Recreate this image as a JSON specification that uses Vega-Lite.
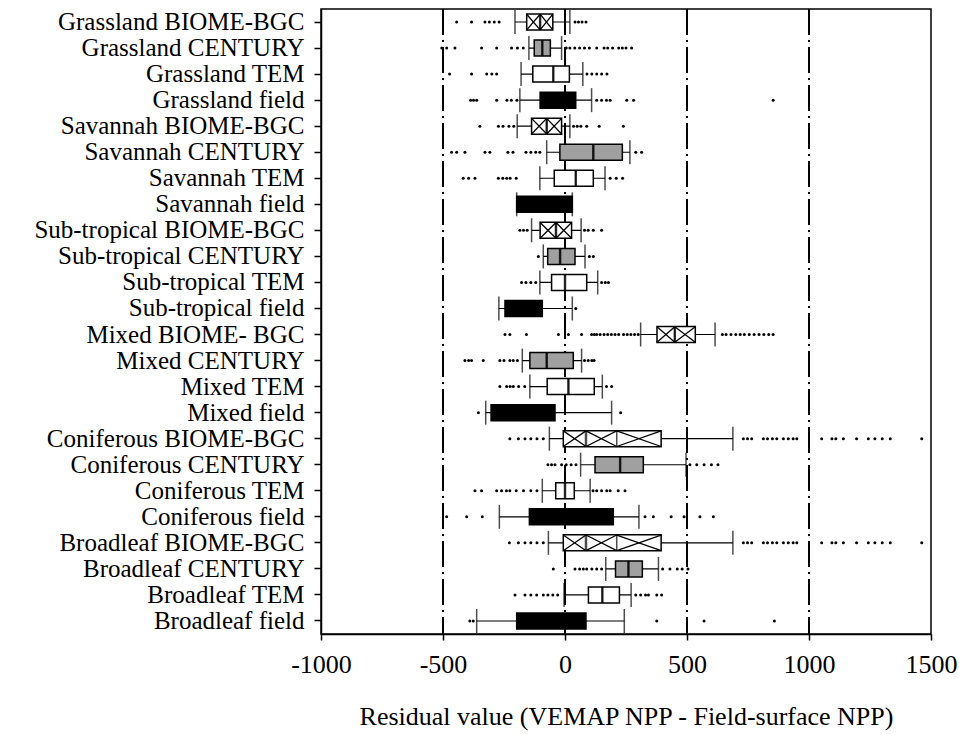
{
  "$schema": "https://vega.github.io/schema/vega-lite/v6.json",
  "width": 610,
  "height": 625,
  "autosize": {"type": "none"},
  "padding": {"left": 321, "top": 9, "right": 28, "bottom": 100},
  "background": "white",
  "config": {
    "view": {"stroke": "black", "strokeWidth": 1.5},
    "font": "Liberation Serif",
    "axis": {"domainColor": "black", "tickColor": "black", "labelColor": "black", "titleColor": "black", "labelFont": "Liberation Serif", "titleFont": "Liberation Serif", "grid": false},
    "axisX": {"tickCount": 5, "labelExpr": "datum.value + ''", "labelFontSize": 26, "titleFontSize": 26, "titleFontWeight": "normal", "tickSize": 6, "tickWidth": 1.5, "domainWidth": 1.5, "labelPadding": 11, "titlePadding": 26, "labelFlush": false},
    "axisY": {"labelFontSize": 25, "labelLimit": 0, "tickSize": 7, "tickWidth": 1.5, "domainWidth": 1.5, "labelPadding": 10}
  },
  "datasets": {
    "boxes": [
      {"label": "Grassland BIOME-BGC", "model": "BIOME-BGC", "lo": -205, "q1": -157, "med": -102, "mean": -102, "q3": -50, "hi": 20},
      {"label": "Grassland CENTURY", "model": "CENTURY", "lo": -148, "q1": -126, "med": -93, "mean": -93, "q3": -60, "hi": -14},
      {"label": "Grassland TEM", "model": "TEM", "lo": -180, "q1": -132, "med": -48, "mean": -48, "q3": 18, "hi": 73},
      {"label": "Grassland field", "model": "field", "lo": -185, "q1": -102, "med": -30, "mean": -30, "q3": 44, "hi": 109},
      {"label": "Savannah BIOME-BGC", "model": "BIOME-BGC", "lo": -196, "q1": -137, "med": -75, "mean": -75, "q3": -14, "hi": 20},
      {"label": "Savannah CENTURY", "model": "CENTURY", "lo": -75, "q1": -21, "med": 116, "mean": 116, "q3": 235, "hi": 266},
      {"label": "Savannah TEM", "model": "TEM", "lo": -103, "q1": -44, "med": 44, "mean": 44, "q3": 116, "hi": 164},
      {"label": "Savannah field", "model": "field", "lo": -198, "q1": -198, "med": -80, "mean": -80, "q3": 30, "hi": 30},
      {"label": "Sub-tropical BIOME-BGC", "model": "BIOME-BGC", "lo": -137, "q1": -102, "med": -37, "mean": -37, "q3": 27, "hi": 66},
      {"label": "Sub-tropical CENTURY", "model": "CENTURY", "lo": -89, "q1": -71, "med": -20, "mean": -20, "q3": 41, "hi": 82},
      {"label": "Sub-tropical TEM", "model": "TEM", "lo": -103, "q1": -55, "med": 0, "mean": 0, "q3": 89, "hi": 134},
      {"label": "Sub-tropical field", "model": "field", "lo": -271, "q1": -246, "med": -170, "mean": -170, "q3": -93, "hi": 30},
      {"label": "Mixed BIOME- BGC", "model": "BIOME-BGC", "lo": 310, "q1": 377, "med": 450, "mean": 450, "q3": 534, "hi": 615},
      {"label": "Mixed CENTURY", "model": "CENTURY", "lo": -175, "q1": -144, "med": -75, "mean": -75, "q3": 34, "hi": 68},
      {"label": "Mixed TEM", "model": "TEM", "lo": -144, "q1": -73, "med": 14, "mean": 14, "q3": 120, "hi": 153},
      {"label": "Mixed field", "model": "field", "lo": -325, "q1": -303, "med": -200, "mean": -200, "q3": -41, "hi": 191},
      {"label": "Coniferous BIOME-BGC", "model": "BIOME-BGC", "lo": -64, "q1": -7, "med": 86, "mean": 212, "q3": 394, "hi": 688},
      {"label": "Coniferous CENTURY", "model": "CENTURY", "lo": 64, "q1": 123, "med": 226, "mean": 226, "q3": 321, "hi": 496},
      {"label": "Coniferous TEM", "model": "TEM", "lo": -93, "q1": -38, "med": 0, "mean": 0, "q3": 38, "hi": 103},
      {"label": "Coniferous field", "model": "field", "lo": -269, "q1": -146, "med": 50, "mean": 50, "q3": 198, "hi": 303},
      {"label": "Broadleaf BIOME-BGC", "model": "BIOME-BGC", "lo": -68, "q1": -7, "med": 86, "mean": 212, "q3": 394, "hi": 688},
      {"label": "Broadleaf CENTURY", "model": "CENTURY", "lo": 167, "q1": 207, "med": 260, "mean": 260, "q3": 317, "hi": 383},
      {"label": "Broadleaf TEM", "model": "TEM", "lo": -4, "q1": 96, "med": 153, "mean": 153, "q3": 223, "hi": 271},
      {"label": "Broadleaf field", "model": "field", "lo": -362, "q1": -198, "med": -60, "mean": -60, "q3": 86, "hi": 243}
    ],
    "outl": [
      {"label": "Grassland BIOME-BGC", "v": -444}, {"label": "Grassland BIOME-BGC", "v": -383}, {"label": "Grassland BIOME-BGC", "v": -328}, {"label": "Grassland BIOME-BGC", "v": -310}, {"label": "Grassland BIOME-BGC", "v": -290}, {"label": "Grassland BIOME-BGC", "v": -270}, {"label": "Grassland BIOME-BGC", "v": 41}, {"label": "Grassland BIOME-BGC", "v": 55}, {"label": "Grassland BIOME-BGC", "v": 70}, {"label": "Grassland BIOME-BGC", "v": 86},
      {"label": "Grassland CENTURY", "v": -505}, {"label": "Grassland CENTURY", "v": -485}, {"label": "Grassland CENTURY", "v": -451}, {"label": "Grassland CENTURY", "v": -342}, {"label": "Grassland CENTURY", "v": -280}, {"label": "Grassland CENTURY", "v": -219}, {"label": "Grassland CENTURY", "v": -195}, {"label": "Grassland CENTURY", "v": -171}, {"label": "Grassland CENTURY", "v": 5}, {"label": "Grassland CENTURY", "v": 20}, {"label": "Grassland CENTURY", "v": 40}, {"label": "Grassland CENTURY", "v": 60}, {"label": "Grassland CENTURY", "v": 80}, {"label": "Grassland CENTURY", "v": 100}, {"label": "Grassland CENTURY", "v": 130}, {"label": "Grassland CENTURY", "v": 160}, {"label": "Grassland CENTURY", "v": 175}, {"label": "Grassland CENTURY", "v": 195}, {"label": "Grassland CENTURY", "v": 220}, {"label": "Grassland CENTURY", "v": 235}, {"label": "Grassland CENTURY", "v": 250}, {"label": "Grassland CENTURY", "v": 273},
      {"label": "Grassland TEM", "v": -473}, {"label": "Grassland TEM", "v": -383}, {"label": "Grassland TEM", "v": -321}, {"label": "Grassland TEM", "v": -300}, {"label": "Grassland TEM", "v": -280}, {"label": "Grassland TEM", "v": 90}, {"label": "Grassland TEM", "v": 110}, {"label": "Grassland TEM", "v": 130}, {"label": "Grassland TEM", "v": 150}, {"label": "Grassland TEM", "v": 172},
      {"label": "Grassland field", "v": -387}, {"label": "Grassland field", "v": -375}, {"label": "Grassland field", "v": -362}, {"label": "Grassland field", "v": -280}, {"label": "Grassland field", "v": -238}, {"label": "Grassland field", "v": -220}, {"label": "Grassland field", "v": -197}, {"label": "Grassland field", "v": 130}, {"label": "Grassland field", "v": 150}, {"label": "Grassland field", "v": 170}, {"label": "Grassland field", "v": 185}, {"label": "Grassland field", "v": 253}, {"label": "Grassland field", "v": 281}, {"label": "Grassland field", "v": 853},
      {"label": "Savannah BIOME-BGC", "v": -349}, {"label": "Savannah BIOME-BGC", "v": -273}, {"label": "Savannah BIOME-BGC", "v": -254}, {"label": "Savannah BIOME-BGC", "v": -230}, {"label": "Savannah BIOME-BGC", "v": -210}, {"label": "Savannah BIOME-BGC", "v": 35}, {"label": "Savannah BIOME-BGC", "v": 50}, {"label": "Savannah BIOME-BGC", "v": 65}, {"label": "Savannah BIOME-BGC", "v": 89}, {"label": "Savannah BIOME-BGC", "v": 140}, {"label": "Savannah BIOME-BGC", "v": 239},
      {"label": "Savannah CENTURY", "v": -465}, {"label": "Savannah CENTURY", "v": -444}, {"label": "Savannah CENTURY", "v": -410}, {"label": "Savannah CENTURY", "v": -328}, {"label": "Savannah CENTURY", "v": -308}, {"label": "Savannah CENTURY", "v": -234}, {"label": "Savannah CENTURY", "v": -213}, {"label": "Savannah CENTURY", "v": -160}, {"label": "Savannah CENTURY", "v": -140}, {"label": "Savannah CENTURY", "v": -120}, {"label": "Savannah CENTURY", "v": -103}, {"label": "Savannah CENTURY", "v": 290}, {"label": "Savannah CENTURY", "v": 314},
      {"label": "Savannah TEM", "v": -417}, {"label": "Savannah TEM", "v": -395}, {"label": "Savannah TEM", "v": -369}, {"label": "Savannah TEM", "v": -273}, {"label": "Savannah TEM", "v": -255}, {"label": "Savannah TEM", "v": -239}, {"label": "Savannah TEM", "v": -225}, {"label": "Savannah TEM", "v": -200}, {"label": "Savannah TEM", "v": 185}, {"label": "Savannah TEM", "v": 210}, {"label": "Savannah TEM", "v": 236},
      {"label": "Sub-tropical BIOME-BGC", "v": -185}, {"label": "Sub-tropical BIOME-BGC", "v": -170}, {"label": "Sub-tropical BIOME-BGC", "v": -155}, {"label": "Sub-tropical BIOME-BGC", "v": 80}, {"label": "Sub-tropical BIOME-BGC", "v": 95}, {"label": "Sub-tropical BIOME-BGC", "v": 116}, {"label": "Sub-tropical BIOME-BGC", "v": 150},
      {"label": "Sub-tropical CENTURY", "v": -109}, {"label": "Sub-tropical CENTURY", "v": 100}, {"label": "Sub-tropical CENTURY", "v": 116},
      {"label": "Sub-tropical TEM", "v": -178}, {"label": "Sub-tropical TEM", "v": -160}, {"label": "Sub-tropical TEM", "v": -140}, {"label": "Sub-tropical TEM", "v": -120}, {"label": "Sub-tropical TEM", "v": 150}, {"label": "Sub-tropical TEM", "v": 165}, {"label": "Sub-tropical TEM", "v": 178},
      {"label": "Sub-tropical field", "v": 44},
      {"label": "Mixed BIOME- BGC", "v": -246}, {"label": "Mixed BIOME- BGC", "v": -226}, {"label": "Mixed BIOME- BGC", "v": -158}, {"label": "Mixed BIOME- BGC", "v": -27}, {"label": "Mixed BIOME- BGC", "v": 14}, {"label": "Mixed BIOME- BGC", "v": 68}, {"label": "Mixed BIOME- BGC", "v": 109}, {"label": "Mixed BIOME- BGC", "v": 120}, {"label": "Mixed BIOME- BGC", "v": 130}, {"label": "Mixed BIOME- BGC", "v": 144}, {"label": "Mixed BIOME- BGC", "v": 160}, {"label": "Mixed BIOME- BGC", "v": 175}, {"label": "Mixed BIOME- BGC", "v": 190}, {"label": "Mixed BIOME- BGC", "v": 205}, {"label": "Mixed BIOME- BGC", "v": 220}, {"label": "Mixed BIOME- BGC", "v": 240}, {"label": "Mixed BIOME- BGC", "v": 255}, {"label": "Mixed BIOME- BGC", "v": 270}, {"label": "Mixed BIOME- BGC", "v": 285}, {"label": "Mixed BIOME- BGC", "v": 300}, {"label": "Mixed BIOME- BGC", "v": 645}, {"label": "Mixed BIOME- BGC", "v": 660}, {"label": "Mixed BIOME- BGC", "v": 680}, {"label": "Mixed BIOME- BGC", "v": 700}, {"label": "Mixed BIOME- BGC", "v": 718}, {"label": "Mixed BIOME- BGC", "v": 735}, {"label": "Mixed BIOME- BGC", "v": 755}, {"label": "Mixed BIOME- BGC", "v": 775}, {"label": "Mixed BIOME- BGC", "v": 795}, {"label": "Mixed BIOME- BGC", "v": 815}, {"label": "Mixed BIOME- BGC", "v": 835}, {"label": "Mixed BIOME- BGC", "v": 853},
      {"label": "Mixed CENTURY", "v": -410}, {"label": "Mixed CENTURY", "v": -395}, {"label": "Mixed CENTURY", "v": -383}, {"label": "Mixed CENTURY", "v": -335}, {"label": "Mixed CENTURY", "v": -267}, {"label": "Mixed CENTURY", "v": -250}, {"label": "Mixed CENTURY", "v": -226}, {"label": "Mixed CENTURY", "v": -212}, {"label": "Mixed CENTURY", "v": -195}, {"label": "Mixed CENTURY", "v": 80}, {"label": "Mixed CENTURY", "v": 95}, {"label": "Mixed CENTURY", "v": 110}, {"label": "Mixed CENTURY", "v": 119},
      {"label": "Mixed TEM", "v": -267}, {"label": "Mixed TEM", "v": -239}, {"label": "Mixed TEM", "v": -225}, {"label": "Mixed TEM", "v": -212}, {"label": "Mixed TEM", "v": -190}, {"label": "Mixed TEM", "v": -165}, {"label": "Mixed TEM", "v": 170}, {"label": "Mixed TEM", "v": 191},
      {"label": "Mixed field", "v": -355}, {"label": "Mixed field", "v": 228},
      {"label": "Coniferous BIOME-BGC", "v": -226}, {"label": "Coniferous BIOME-BGC", "v": -191}, {"label": "Coniferous BIOME-BGC", "v": -164}, {"label": "Coniferous BIOME-BGC", "v": -140}, {"label": "Coniferous BIOME-BGC", "v": -115}, {"label": "Coniferous BIOME-BGC", "v": -89}, {"label": "Coniferous BIOME-BGC", "v": 731}, {"label": "Coniferous BIOME-BGC", "v": 748}, {"label": "Coniferous BIOME-BGC", "v": 765}, {"label": "Coniferous BIOME-BGC", "v": 813}, {"label": "Coniferous BIOME-BGC", "v": 830}, {"label": "Coniferous BIOME-BGC", "v": 850}, {"label": "Coniferous BIOME-BGC", "v": 868}, {"label": "Coniferous BIOME-BGC", "v": 895}, {"label": "Coniferous BIOME-BGC", "v": 915}, {"label": "Coniferous BIOME-BGC", "v": 935}, {"label": "Coniferous BIOME-BGC", "v": 950}, {"label": "Coniferous BIOME-BGC", "v": 1052}, {"label": "Coniferous BIOME-BGC", "v": 1094}, {"label": "Coniferous BIOME-BGC", "v": 1110}, {"label": "Coniferous BIOME-BGC", "v": 1141}, {"label": "Coniferous BIOME-BGC", "v": 1195}, {"label": "Coniferous BIOME-BGC", "v": 1243}, {"label": "Coniferous BIOME-BGC", "v": 1270}, {"label": "Coniferous BIOME-BGC", "v": 1300}, {"label": "Coniferous BIOME-BGC", "v": 1333}, {"label": "Coniferous BIOME-BGC", "v": 1462},
      {"label": "Coniferous CENTURY", "v": -70}, {"label": "Coniferous CENTURY", "v": -55}, {"label": "Coniferous CENTURY", "v": -41}, {"label": "Coniferous CENTURY", "v": -14}, {"label": "Coniferous CENTURY", "v": 5}, {"label": "Coniferous CENTURY", "v": 25}, {"label": "Coniferous CENTURY", "v": 45}, {"label": "Coniferous CENTURY", "v": 512}, {"label": "Coniferous CENTURY", "v": 540}, {"label": "Coniferous CENTURY", "v": 570}, {"label": "Coniferous CENTURY", "v": 600}, {"label": "Coniferous CENTURY", "v": 627},
      {"label": "Coniferous TEM", "v": -369}, {"label": "Coniferous TEM", "v": -342}, {"label": "Coniferous TEM", "v": -280}, {"label": "Coniferous TEM", "v": -260}, {"label": "Coniferous TEM", "v": -240}, {"label": "Coniferous TEM", "v": -226}, {"label": "Coniferous TEM", "v": -200}, {"label": "Coniferous TEM", "v": -170}, {"label": "Coniferous TEM", "v": -140}, {"label": "Coniferous TEM", "v": -115}, {"label": "Coniferous TEM", "v": 115}, {"label": "Coniferous TEM", "v": 130}, {"label": "Coniferous TEM", "v": 150}, {"label": "Coniferous TEM", "v": 171}, {"label": "Coniferous TEM", "v": 185}, {"label": "Coniferous TEM", "v": 218}, {"label": "Coniferous TEM", "v": 246},
      {"label": "Coniferous field", "v": -485}, {"label": "Coniferous field", "v": -403}, {"label": "Coniferous field", "v": -339}, {"label": "Coniferous field", "v": 328}, {"label": "Coniferous field", "v": 362}, {"label": "Coniferous field", "v": 435}, {"label": "Coniferous field", "v": 488}, {"label": "Coniferous field", "v": 553}, {"label": "Coniferous field", "v": 608},
      {"label": "Broadleaf BIOME-BGC", "v": -228}, {"label": "Broadleaf BIOME-BGC", "v": -191}, {"label": "Broadleaf BIOME-BGC", "v": -164}, {"label": "Broadleaf BIOME-BGC", "v": -140}, {"label": "Broadleaf BIOME-BGC", "v": -115}, {"label": "Broadleaf BIOME-BGC", "v": -89}, {"label": "Broadleaf BIOME-BGC", "v": 731}, {"label": "Broadleaf BIOME-BGC", "v": 748}, {"label": "Broadleaf BIOME-BGC", "v": 765}, {"label": "Broadleaf BIOME-BGC", "v": 813}, {"label": "Broadleaf BIOME-BGC", "v": 830}, {"label": "Broadleaf BIOME-BGC", "v": 850}, {"label": "Broadleaf BIOME-BGC", "v": 868}, {"label": "Broadleaf BIOME-BGC", "v": 895}, {"label": "Broadleaf BIOME-BGC", "v": 915}, {"label": "Broadleaf BIOME-BGC", "v": 935}, {"label": "Broadleaf BIOME-BGC", "v": 950}, {"label": "Broadleaf BIOME-BGC", "v": 1052}, {"label": "Broadleaf BIOME-BGC", "v": 1094}, {"label": "Broadleaf BIOME-BGC", "v": 1110}, {"label": "Broadleaf BIOME-BGC", "v": 1141}, {"label": "Broadleaf BIOME-BGC", "v": 1195}, {"label": "Broadleaf BIOME-BGC", "v": 1243}, {"label": "Broadleaf BIOME-BGC", "v": 1270}, {"label": "Broadleaf BIOME-BGC", "v": 1300}, {"label": "Broadleaf BIOME-BGC", "v": 1333}, {"label": "Broadleaf BIOME-BGC", "v": 1462},
      {"label": "Broadleaf CENTURY", "v": -48}, {"label": "Broadleaf CENTURY", "v": 41}, {"label": "Broadleaf CENTURY", "v": 60}, {"label": "Broadleaf CENTURY", "v": 75}, {"label": "Broadleaf CENTURY", "v": 89}, {"label": "Broadleaf CENTURY", "v": 110}, {"label": "Broadleaf CENTURY", "v": 130}, {"label": "Broadleaf CENTURY", "v": 150}, {"label": "Broadleaf CENTURY", "v": 400}, {"label": "Broadleaf CENTURY", "v": 430}, {"label": "Broadleaf CENTURY", "v": 460}, {"label": "Broadleaf CENTURY", "v": 480}, {"label": "Broadleaf CENTURY", "v": 504},
      {"label": "Broadleaf TEM", "v": -205}, {"label": "Broadleaf TEM", "v": -164}, {"label": "Broadleaf TEM", "v": -140}, {"label": "Broadleaf TEM", "v": -116}, {"label": "Broadleaf TEM", "v": -89}, {"label": "Broadleaf TEM", "v": -70}, {"label": "Broadleaf TEM", "v": -50}, {"label": "Broadleaf TEM", "v": -30}, {"label": "Broadleaf TEM", "v": 290}, {"label": "Broadleaf TEM", "v": 310}, {"label": "Broadleaf TEM", "v": 330}, {"label": "Broadleaf TEM", "v": 342}, {"label": "Broadleaf TEM", "v": 376}, {"label": "Broadleaf TEM", "v": 396},
      {"label": "Broadleaf field", "v": -390}, {"label": "Broadleaf field", "v": -376}, {"label": "Broadleaf field", "v": 376}, {"label": "Broadleaf field", "v": 570}, {"label": "Broadleaf field", "v": 858}
    ]
  },
  "layer": [
    {
      "data": {"values": [{"r": -500}, {"r": 0}, {"r": 500}, {"r": 1000}]},
      "mark": {"type": "rule", "color": "black", "strokeWidth": 2, "strokeDash": [26, 5, 2, 5]},
      "encoding": {
        "x": {"field": "r", "type": "quantitative", "title": "Residual value (VEMAP NPP - Field-surface NPP)", "scale": {"domain": [-1000, 1500], "nice": false, "zero": false}}
      }
    },
    {
      "data": {"name": "boxes"},
      "mark": {"type": "rule", "color": "black", "strokeWidth": 1.2},
      "encoding": {
        "x": {"field": "lo", "type": "quantitative", "title": "Residual value (VEMAP NPP - Field-surface NPP)", "scale": {"domain": [-1000, 1500], "nice": false, "zero": false}},
        "x2": {"field": "hi", "title": "Residual value (VEMAP NPP - Field-surface NPP)"},
        "y": {"field": "label", "type": "nominal", "sort": null, "title": null, "scale": {"domain": ["Grassland BIOME-BGC","Grassland CENTURY","Grassland TEM","Grassland field","Savannah BIOME-BGC","Savannah CENTURY","Savannah TEM","Savannah field","Sub-tropical BIOME-BGC","Sub-tropical CENTURY","Sub-tropical TEM","Sub-tropical field","Mixed BIOME- BGC","Mixed CENTURY","Mixed TEM","Mixed field","Coniferous BIOME-BGC","Coniferous CENTURY","Coniferous TEM","Coniferous field","Broadleaf BIOME-BGC","Broadleaf CENTURY","Broadleaf TEM","Broadleaf field"], "paddingInner": 0, "paddingOuter": 0}}
      }
    },
    {
      "data": {"name": "boxes"},
      "mark": {"type": "tick", "color": "black", "size": 24, "thickness": 1.5},
      "encoding": {
        "x": {"field": "lo", "type": "quantitative", "title": "Residual value (VEMAP NPP - Field-surface NPP)", "scale": {"domain": [-1000, 1500], "nice": false, "zero": false}},
        "y": {"field": "label", "type": "nominal", "sort": null, "title": null, "scale": {"domain": ["Grassland BIOME-BGC","Grassland CENTURY","Grassland TEM","Grassland field","Savannah BIOME-BGC","Savannah CENTURY","Savannah TEM","Savannah field","Sub-tropical BIOME-BGC","Sub-tropical CENTURY","Sub-tropical TEM","Sub-tropical field","Mixed BIOME- BGC","Mixed CENTURY","Mixed TEM","Mixed field","Coniferous BIOME-BGC","Coniferous CENTURY","Coniferous TEM","Coniferous field","Broadleaf BIOME-BGC","Broadleaf CENTURY","Broadleaf TEM","Broadleaf field"], "paddingInner": 0, "paddingOuter": 0}}
      }
    },
    {
      "data": {"name": "boxes"},
      "mark": {"type": "tick", "color": "black", "size": 24, "thickness": 1.5},
      "encoding": {
        "x": {"field": "hi", "type": "quantitative", "title": "Residual value (VEMAP NPP - Field-surface NPP)", "scale": {"domain": [-1000, 1500], "nice": false, "zero": false}},
        "y": {"field": "label", "type": "nominal", "sort": null, "title": null, "scale": {"domain": ["Grassland BIOME-BGC","Grassland CENTURY","Grassland TEM","Grassland field","Savannah BIOME-BGC","Savannah CENTURY","Savannah TEM","Savannah field","Sub-tropical BIOME-BGC","Sub-tropical CENTURY","Sub-tropical TEM","Sub-tropical field","Mixed BIOME- BGC","Mixed CENTURY","Mixed TEM","Mixed field","Coniferous BIOME-BGC","Coniferous CENTURY","Coniferous TEM","Coniferous field","Broadleaf BIOME-BGC","Broadleaf CENTURY","Broadleaf TEM","Broadleaf field"], "paddingInner": 0, "paddingOuter": 0}}
      }
    },
    {
      "data": {"name": "boxes"},
      "mark": {"type": "bar", "size": 16, "stroke": "black", "strokeWidth": 1.5},
      "encoding": {
        "x": {"field": "q1", "type": "quantitative", "title": "Residual value (VEMAP NPP - Field-surface NPP)", "scale": {"domain": [-1000, 1500], "nice": false, "zero": false}},
        "x2": {"field": "q3", "title": "Residual value (VEMAP NPP - Field-surface NPP)"},
        "y": {"field": "label", "type": "nominal", "sort": null, "title": null, "scale": {"domain": ["Grassland BIOME-BGC","Grassland CENTURY","Grassland TEM","Grassland field","Savannah BIOME-BGC","Savannah CENTURY","Savannah TEM","Savannah field","Sub-tropical BIOME-BGC","Sub-tropical CENTURY","Sub-tropical TEM","Sub-tropical field","Mixed BIOME- BGC","Mixed CENTURY","Mixed TEM","Mixed field","Coniferous BIOME-BGC","Coniferous CENTURY","Coniferous TEM","Coniferous field","Broadleaf BIOME-BGC","Broadleaf CENTURY","Broadleaf TEM","Broadleaf field"], "paddingInner": 0, "paddingOuter": 0}},
        "color": {"field": "model", "type": "nominal", "scale": {"domain": ["BIOME-BGC", "CENTURY", "TEM", "field"], "range": ["#ffffff", "#a0a0a0", "#ffffff", "#000000"]}, "legend": null}
      }
    },
    {
      "data": {"name": "boxes"},
      "transform": [{"filter": "datum.model === 'BIOME-BGC'"}],
      "mark": {"type": "rule", "color": "black", "strokeWidth": 1.3},
      "encoding": {
        "x": {"field": "q1", "type": "quantitative", "title": "Residual value (VEMAP NPP - Field-surface NPP)", "scale": {"domain": [-1000, 1500], "nice": false, "zero": false}},
        "x2": {"field": "med", "title": "Residual value (VEMAP NPP - Field-surface NPP)"},
        "y": {"field": "label", "type": "nominal", "sort": null, "title": null, "bandPosition": 0.2, "scale": {"domain": ["Grassland BIOME-BGC","Grassland CENTURY","Grassland TEM","Grassland field","Savannah BIOME-BGC","Savannah CENTURY","Savannah TEM","Savannah field","Sub-tropical BIOME-BGC","Sub-tropical CENTURY","Sub-tropical TEM","Sub-tropical field","Mixed BIOME- BGC","Mixed CENTURY","Mixed TEM","Mixed field","Coniferous BIOME-BGC","Coniferous CENTURY","Coniferous TEM","Coniferous field","Broadleaf BIOME-BGC","Broadleaf CENTURY","Broadleaf TEM","Broadleaf field"], "paddingInner": 0, "paddingOuter": 0}},
        "y2": {"field": "label", "bandPosition": 0.8, "title": null}
      }
    },
    {
      "data": {"name": "boxes"},
      "transform": [{"filter": "datum.model === 'BIOME-BGC'"}],
      "mark": {"type": "rule", "color": "black", "strokeWidth": 1.3},
      "encoding": {
        "x": {"field": "q1", "type": "quantitative", "title": "Residual value (VEMAP NPP - Field-surface NPP)", "scale": {"domain": [-1000, 1500], "nice": false, "zero": false}},
        "x2": {"field": "med", "title": "Residual value (VEMAP NPP - Field-surface NPP)"},
        "y": {"field": "label", "type": "nominal", "sort": null, "title": null, "bandPosition": 0.8, "scale": {"domain": ["Grassland BIOME-BGC","Grassland CENTURY","Grassland TEM","Grassland field","Savannah BIOME-BGC","Savannah CENTURY","Savannah TEM","Savannah field","Sub-tropical BIOME-BGC","Sub-tropical CENTURY","Sub-tropical TEM","Sub-tropical field","Mixed BIOME- BGC","Mixed CENTURY","Mixed TEM","Mixed field","Coniferous BIOME-BGC","Coniferous CENTURY","Coniferous TEM","Coniferous field","Broadleaf BIOME-BGC","Broadleaf CENTURY","Broadleaf TEM","Broadleaf field"], "paddingInner": 0, "paddingOuter": 0}},
        "y2": {"field": "label", "bandPosition": 0.2, "title": null}
      }
    },
    {
      "data": {"name": "boxes"},
      "transform": [{"filter": "datum.model === 'BIOME-BGC' && datum.mean > datum.med"}],
      "mark": {"type": "rule", "color": "black", "strokeWidth": 1.3},
      "encoding": {
        "x": {"field": "med", "type": "quantitative", "title": "Residual value (VEMAP NPP - Field-surface NPP)", "scale": {"domain": [-1000, 1500], "nice": false, "zero": false}},
        "x2": {"field": "mean", "title": "Residual value (VEMAP NPP - Field-surface NPP)"},
        "y": {"field": "label", "type": "nominal", "sort": null, "title": null, "bandPosition": 0.2, "scale": {"domain": ["Grassland BIOME-BGC","Grassland CENTURY","Grassland TEM","Grassland field","Savannah BIOME-BGC","Savannah CENTURY","Savannah TEM","Savannah field","Sub-tropical BIOME-BGC","Sub-tropical CENTURY","Sub-tropical TEM","Sub-tropical field","Mixed BIOME- BGC","Mixed CENTURY","Mixed TEM","Mixed field","Coniferous BIOME-BGC","Coniferous CENTURY","Coniferous TEM","Coniferous field","Broadleaf BIOME-BGC","Broadleaf CENTURY","Broadleaf TEM","Broadleaf field"], "paddingInner": 0, "paddingOuter": 0}},
        "y2": {"field": "label", "bandPosition": 0.8, "title": null}
      }
    },
    {
      "data": {"name": "boxes"},
      "transform": [{"filter": "datum.model === 'BIOME-BGC' && datum.mean > datum.med"}],
      "mark": {"type": "rule", "color": "black", "strokeWidth": 1.3},
      "encoding": {
        "x": {"field": "med", "type": "quantitative", "title": "Residual value (VEMAP NPP - Field-surface NPP)", "scale": {"domain": [-1000, 1500], "nice": false, "zero": false}},
        "x2": {"field": "mean", "title": "Residual value (VEMAP NPP - Field-surface NPP)"},
        "y": {"field": "label", "type": "nominal", "sort": null, "title": null, "bandPosition": 0.8, "scale": {"domain": ["Grassland BIOME-BGC","Grassland CENTURY","Grassland TEM","Grassland field","Savannah BIOME-BGC","Savannah CENTURY","Savannah TEM","Savannah field","Sub-tropical BIOME-BGC","Sub-tropical CENTURY","Sub-tropical TEM","Sub-tropical field","Mixed BIOME- BGC","Mixed CENTURY","Mixed TEM","Mixed field","Coniferous BIOME-BGC","Coniferous CENTURY","Coniferous TEM","Coniferous field","Broadleaf BIOME-BGC","Broadleaf CENTURY","Broadleaf TEM","Broadleaf field"], "paddingInner": 0, "paddingOuter": 0}},
        "y2": {"field": "label", "bandPosition": 0.2, "title": null}
      }
    },
    {
      "data": {"name": "boxes"},
      "transform": [{"filter": "datum.model === 'BIOME-BGC'"}],
      "mark": {"type": "rule", "color": "black", "strokeWidth": 1.3},
      "encoding": {
        "x": {"field": "mean", "type": "quantitative", "title": "Residual value (VEMAP NPP - Field-surface NPP)", "scale": {"domain": [-1000, 1500], "nice": false, "zero": false}},
        "x2": {"field": "q3", "title": "Residual value (VEMAP NPP - Field-surface NPP)"},
        "y": {"field": "label", "type": "nominal", "sort": null, "title": null, "bandPosition": 0.2, "scale": {"domain": ["Grassland BIOME-BGC","Grassland CENTURY","Grassland TEM","Grassland field","Savannah BIOME-BGC","Savannah CENTURY","Savannah TEM","Savannah field","Sub-tropical BIOME-BGC","Sub-tropical CENTURY","Sub-tropical TEM","Sub-tropical field","Mixed BIOME- BGC","Mixed CENTURY","Mixed TEM","Mixed field","Coniferous BIOME-BGC","Coniferous CENTURY","Coniferous TEM","Coniferous field","Broadleaf BIOME-BGC","Broadleaf CENTURY","Broadleaf TEM","Broadleaf field"], "paddingInner": 0, "paddingOuter": 0}},
        "y2": {"field": "label", "bandPosition": 0.8, "title": null}
      }
    },
    {
      "data": {"name": "boxes"},
      "transform": [{"filter": "datum.model === 'BIOME-BGC'"}],
      "mark": {"type": "rule", "color": "black", "strokeWidth": 1.3},
      "encoding": {
        "x": {"field": "mean", "type": "quantitative", "title": "Residual value (VEMAP NPP - Field-surface NPP)", "scale": {"domain": [-1000, 1500], "nice": false, "zero": false}},
        "x2": {"field": "q3", "title": "Residual value (VEMAP NPP - Field-surface NPP)"},
        "y": {"field": "label", "type": "nominal", "sort": null, "title": null, "bandPosition": 0.8, "scale": {"domain": ["Grassland BIOME-BGC","Grassland CENTURY","Grassland TEM","Grassland field","Savannah BIOME-BGC","Savannah CENTURY","Savannah TEM","Savannah field","Sub-tropical BIOME-BGC","Sub-tropical CENTURY","Sub-tropical TEM","Sub-tropical field","Mixed BIOME- BGC","Mixed CENTURY","Mixed TEM","Mixed field","Coniferous BIOME-BGC","Coniferous CENTURY","Coniferous TEM","Coniferous field","Broadleaf BIOME-BGC","Broadleaf CENTURY","Broadleaf TEM","Broadleaf field"], "paddingInner": 0, "paddingOuter": 0}},
        "y2": {"field": "label", "bandPosition": 0.2, "title": null}
      }
    },
    {
      "data": {"name": "boxes"},
      "mark": {"type": "tick", "color": "black", "size": 16, "thickness": 2.5},
      "encoding": {
        "x": {"field": "med", "type": "quantitative", "title": "Residual value (VEMAP NPP - Field-surface NPP)", "scale": {"domain": [-1000, 1500], "nice": false, "zero": false}},
        "y": {"field": "label", "type": "nominal", "sort": null, "title": null, "scale": {"domain": ["Grassland BIOME-BGC","Grassland CENTURY","Grassland TEM","Grassland field","Savannah BIOME-BGC","Savannah CENTURY","Savannah TEM","Savannah field","Sub-tropical BIOME-BGC","Sub-tropical CENTURY","Sub-tropical TEM","Sub-tropical field","Mixed BIOME- BGC","Mixed CENTURY","Mixed TEM","Mixed field","Coniferous BIOME-BGC","Coniferous CENTURY","Coniferous TEM","Coniferous field","Broadleaf BIOME-BGC","Broadleaf CENTURY","Broadleaf TEM","Broadleaf field"], "paddingInner": 0, "paddingOuter": 0}}
      }
    },
    {
      "data": {"name": "boxes"},
      "mark": {"type": "tick", "color": "black", "size": 16, "thickness": 1.5},
      "encoding": {
        "x": {"field": "mean", "type": "quantitative", "title": "Residual value (VEMAP NPP - Field-surface NPP)", "scale": {"domain": [-1000, 1500], "nice": false, "zero": false}},
        "y": {"field": "label", "type": "nominal", "sort": null, "title": null, "scale": {"domain": ["Grassland BIOME-BGC","Grassland CENTURY","Grassland TEM","Grassland field","Savannah BIOME-BGC","Savannah CENTURY","Savannah TEM","Savannah field","Sub-tropical BIOME-BGC","Sub-tropical CENTURY","Sub-tropical TEM","Sub-tropical field","Mixed BIOME- BGC","Mixed CENTURY","Mixed TEM","Mixed field","Coniferous BIOME-BGC","Coniferous CENTURY","Coniferous TEM","Coniferous field","Broadleaf BIOME-BGC","Broadleaf CENTURY","Broadleaf TEM","Broadleaf field"], "paddingInner": 0, "paddingOuter": 0}}
      }
    },
    {
      "data": {"name": "outl"},
      "mark": {"type": "circle", "color": "black", "size": 9, "opacity": 1},
      "encoding": {
        "x": {"field": "v", "type": "quantitative", "title": "Residual value (VEMAP NPP - Field-surface NPP)", "scale": {"domain": [-1000, 1500], "nice": false, "zero": false}},
        "y": {"field": "label", "type": "nominal", "sort": null, "title": null, "scale": {"domain": ["Grassland BIOME-BGC","Grassland CENTURY","Grassland TEM","Grassland field","Savannah BIOME-BGC","Savannah CENTURY","Savannah TEM","Savannah field","Sub-tropical BIOME-BGC","Sub-tropical CENTURY","Sub-tropical TEM","Sub-tropical field","Mixed BIOME- BGC","Mixed CENTURY","Mixed TEM","Mixed field","Coniferous BIOME-BGC","Coniferous CENTURY","Coniferous TEM","Coniferous field","Broadleaf BIOME-BGC","Broadleaf CENTURY","Broadleaf TEM","Broadleaf field"], "paddingInner": 0, "paddingOuter": 0}}
      }
    }
  ]
}
